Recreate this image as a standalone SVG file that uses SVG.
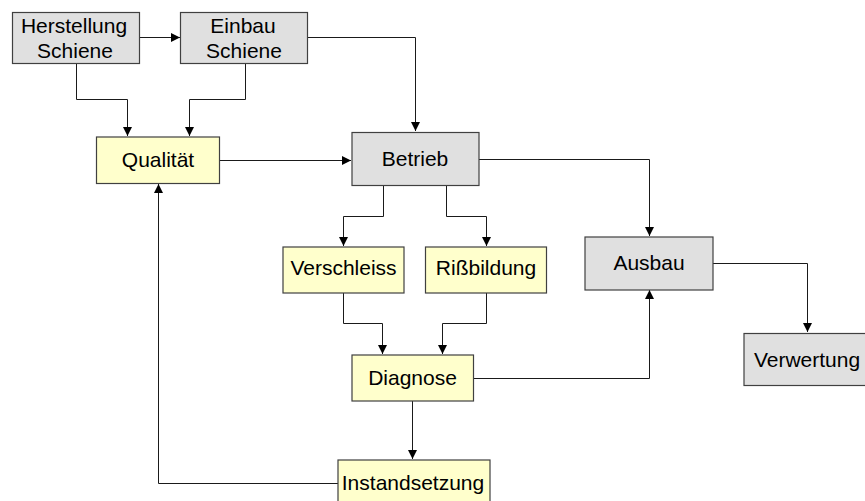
<svg xmlns="http://www.w3.org/2000/svg" width="865" height="501" viewBox="0 0 865 501">
<defs>
<marker id="ah" markerUnits="userSpaceOnUse" markerWidth="9" markerHeight="9" refX="9" refY="4.5" orient="auto">
<path d="M0,0 L9,4.5 L0,9 z" fill="#000"/>
</marker>
<style>
.g{fill:#e0e0e0;stroke:#404040;stroke-width:1.2}
.y{fill:#ffffcc;stroke:#404040;stroke-width:1.2}
text{font-family:"Liberation Sans",Arial,sans-serif;font-size:21px;fill:#000;text-anchor:middle}
.c path{fill:none;stroke:#1a1a1a;stroke-width:1;marker-end:url(#ah)}
</style>
</defs>
<rect width="865" height="501" fill="#fff"/>
<g class="c" id="connectors">
<path d="M139.5,37.5 H180"/>
<path d="M76.5,63.5 V99.5 H127.5 V136"/>
<path d="M245.5,63.5 V99.5 H189.5 V136"/>
<path d="M307.5,37.5 H415.5 V131"/>
<path d="M220,160.5 H351"/>
<path d="M383.5,185.5 V216.5 H343.5 V246"/>
<path d="M446.5,185.5 V216.5 H486.5 V246"/>
<path d="M479,159.5 H649.5 V236"/>
<path d="M343.5,293 V323.5 H382.5 V354"/>
<path d="M486.5,293 V323.5 H442.5 V354"/>
<path d="M473.5,378.5 H649.5 V290"/>
<path d="M713,263.5 H807.5 V332"/>
<path d="M412.5,401 V459"/>
<path d="M338,483.5 H158.5 V184"/>
</g>
<g id="herstellung"><rect class="g" x="12.5" y="12.5" width="127" height="51"/><text x="74" y="33">Herstellung</text><text x="75" y="58">Schiene</text></g>
<g id="einbau"><rect class="g" x="180.5" y="12.5" width="127" height="51"/><text x="243" y="33">Einbau</text><text x="244" y="58">Schiene</text></g>
<g id="qualitaet"><rect class="y" x="96.5" y="137" width="123" height="46.5"/><text x="158" y="167">Qualität</text></g>
<g id="betrieb"><rect class="g" x="352" y="132.5" width="127" height="53"/><text x="415" y="166">Betrieb</text></g>
<g id="verschleiss"><rect class="y" x="283" y="247" width="121" height="46"/><text x="343.5" y="275">Verschleiss</text></g>
<g id="rissbildung"><rect class="y" x="425.5" y="247" width="121" height="46"/><text x="486" y="275">Rißbildung</text></g>
<g id="ausbau"><rect class="g" x="585" y="237" width="128" height="53"/><text x="649" y="270">Ausbau</text></g>
<g id="verwertung"><rect class="g" x="744" y="333.5" width="126" height="52"/><text x="807" y="367">Verwertung</text></g>
<g id="diagnose"><rect class="y" x="352" y="355" width="121.5" height="46"/><text x="412.5" y="385">Diagnose</text></g>
<g id="instandsetzung"><rect class="y" x="338" y="460" width="152" height="48"/><text x="413" y="490">Instandsetzung</text></g>
</svg>
